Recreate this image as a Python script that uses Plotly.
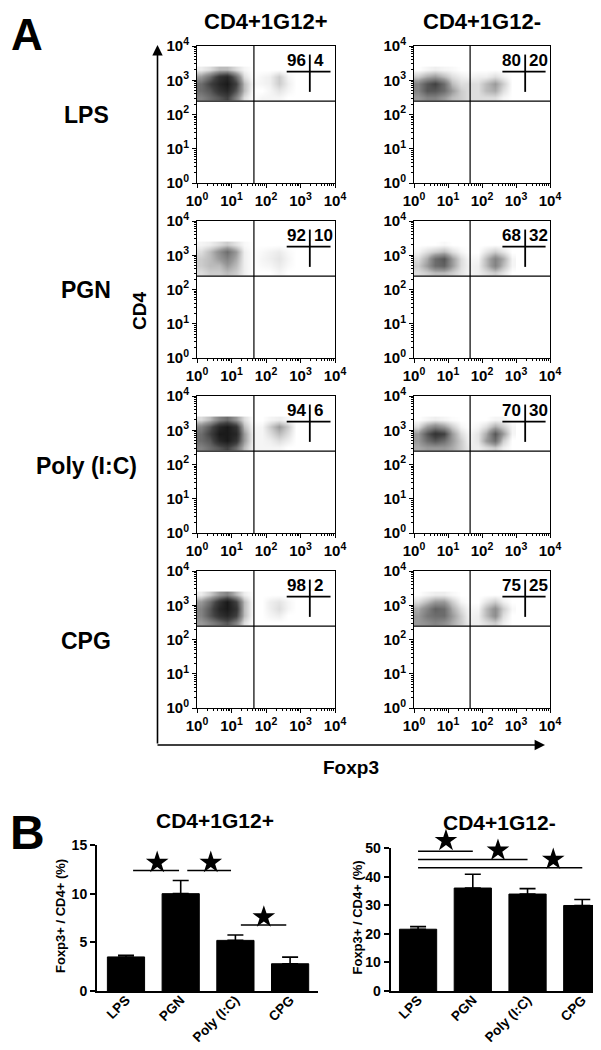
import math
import plotly.graph_objects as go

W, H = 601, 1050
FONT = "Arial, Liberation Sans, Helvetica, sans-serif"

# ---------------- Panel A data ----------------
row_labels = ["LPS", "PGN", "Poly (I:C)", "CPG"]
col_titles = ["CD4+1G12+", "CD4+1G12-"]
# quadrant percentages: [row][col]
quad_neg = [[96, 80], [92, 68], [94, 70], [98, 75]]
quad_pos = [[4, 20], [10, 32], [6, 30], [2, 25]]

decade_ticks = [0, 1, 2, 3, 4]
decade_labels = ["10<sup>0</sup>", "10<sup>1</sup>", "10<sup>2</sup>", "10<sup>3</sup>", "10<sup>4</sup>"]
minor_steps = [2, 3, 4, 5, 6, 7, 8, 9]

gate_x = 1.65   # log10 Foxp3 gate
gate_y = 2.39   # log10 CD4 gate

# density of events, log10 grid
grid_x = [0.125, 0.375, 0.625, 0.875, 1.125, 1.375, 1.625, 1.875, 2.125, 2.375, 2.625, 2.875]
grid_y = [2.5, 2.7, 2.9, 3.1, 3.3]

dens_lps_pos = [
    [4, 5, 6, 7, 4, 1, 0, 0.3, 0.3, 0.3, 0, 0],
    [5, 6, 8, 9, 6, 2, 0, 0, 0.3, 0.8, 0.3, 0],
    [5, 7, 9, 10, 7, 2, 0.2, 0.3, 0.5, 1.5, 0.5, 0],
    [3, 5, 8, 9, 5, 1, 0, 0.3, 0.5, 1.5, 0.3, 0],
    [0.5, 1, 2, 2, 1, 0.3, 0, 0, 0, 0, 0, 0],
]
dens_lps_neg = [
    [3, 4, 4, 3, 2, 1.5, 1, 1, 1, 1, 0.3, 0],
    [4, 6, 6, 5, 3, 1.5, 1, 1, 2, 2.5, 1, 0],
    [4, 6, 7, 5, 2, 1, 1, 1, 2, 3, 1.5, 0],
    [1.5, 2.5, 3, 2, 1, 0.5, 0.3, 0.5, 0.5, 1, 0.5, 0],
    [0, 0.3, 0.5, 0.3, 0.2, 0, 0, 0, 0, 0, 0, 0],
]
dens_pgn_pos = [
    [1, 1.5, 1.5, 2, 1.5, 0.5, 0, 0, 0, 0.3, 0, 0],
    [1.5, 2, 2, 3, 2, 0.5, 0, 0.2, 0.3, 0.6, 0.2, 0],
    [1.5, 2, 3, 4, 2.5, 0.5, 0, 0.3, 0.5, 0.8, 0.3, 0],
    [1, 2, 3.5, 5, 3, 0.5, 0, 0.2, 0.4, 0.6, 0.2, 0],
    [0.3, 0.5, 1, 1.5, 0.8, 0.2, 0, 0, 0, 0, 0, 0],
]
dens_pgn_neg = [
    [1, 1.5, 2, 2, 1.5, 0.8, 0.3, 0.5, 1, 1.5, 0.8, 0],
    [1.5, 3, 5, 5.5, 3, 1, 0.3, 0.5, 2, 4, 2, 0.3],
    [1, 2.5, 5, 6, 3, 1, 0.2, 0.3, 2, 4, 2.5, 0.3],
    [0.3, 1, 1.5, 2, 1, 0.3, 0, 0, 0.8, 1.5, 0.8, 0],
    [0, 0, 0, 0.2, 0, 0, 0, 0, 0, 0, 0, 0],
]
dens_poly_pos = [
    [4, 5, 6, 7, 5, 2, 0.3, 0.3, 0.3, 0.3, 0, 0],
    [5, 6, 9, 10, 8, 3, 0.3, 0.3, 0.5, 1, 0.5, 0],
    [5, 7, 10, 10, 9, 3, 0.3, 0.3, 1, 2, 1, 0],
    [4, 6, 9, 10, 8, 2, 0.2, 0.3, 1.5, 3, 1.5, 0],
    [1, 2, 4, 5, 3, 1, 0, 0, 0.3, 0.5, 0.2, 0],
]
dens_poly_neg = [
    [2.5, 3, 3, 3, 2.5, 1.5, 0.5, 0.5, 1, 1.5, 0.5, 0],
    [3, 5, 6, 5, 3, 1.5, 0.3, 0.8, 3, 5, 1.5, 0],
    [3, 6, 8, 7, 3, 1, 0.2, 0.8, 2.5, 6, 3, 0.3],
    [1, 3, 4, 3, 1.5, 0.3, 0, 0.3, 1, 2.5, 1.5, 0.3],
    [0, 0.3, 0.5, 0.3, 0.1, 0, 0, 0, 0, 0.3, 0.3, 0],
]
dens_cpg_pos = [
    [3, 4, 5, 6, 4, 1, 0, 0, 0, 0, 0, 0],
    [4, 6, 8, 9, 7, 2, 0, 0, 0.3, 0.5, 0, 0],
    [4, 6, 9, 10, 8, 2, 0, 0, 0.5, 1, 0.3, 0],
    [3, 5, 8, 10, 7, 2, 0, 0, 0.5, 0.8, 0.3, 0],
    [0.5, 1.5, 3, 4, 2, 0.5, 0, 0, 0, 0, 0, 0],
]
dens_cpg_neg = [
    [3, 3.5, 4, 3.5, 2.5, 1.5, 0.5, 0.5, 1, 1.5, 0.5, 0],
    [3, 4.5, 5, 5, 3, 1.5, 0.3, 0.5, 2, 3.5, 1, 0],
    [2.5, 4, 5.5, 5, 2.5, 1, 0.2, 0.3, 2, 3.5, 1.5, 0.2],
    [1, 2, 3, 3, 1.5, 0.3, 0, 0, 0.8, 1.5, 0.5, 0],
    [0, 0.3, 0.5, 0.5, 0.2, 0, 0, 0, 0, 0, 0, 0],
]
densities = [
    [dens_lps_pos, dens_lps_neg],
    [dens_pgn_pos, dens_pgn_neg],
    [dens_poly_pos, dens_poly_neg],
    [dens_cpg_pos, dens_cpg_neg],
]

# ---------------- Panel B data ----------------
bar_cats = ["LPS", "PGN", "Poly (I:C)", "CPG"]
pos_mean = [3.5, 10.0, 5.2, 2.8]
pos_sem = [0.17, 1.35, 0.55, 0.68]
neg_mean = [21.6, 36.0, 33.9, 29.9]
neg_sem = [0.9, 4.8, 1.9, 2.1]

# significance brackets: (x_start, x_end, y)
pos_sig_lines = [(0.13, 0.97, 12.38), (1.12, 1.92, 12.38), (2.1, 2.93, 6.77)]
pos_sig_stars = [(0.57, 13.2), (1.55, 13.2), (2.52, 7.6)]
neg_sig_lines = [(0.0, 1.0, 48.9), (0.0, 2.0, 46.0), (0.0, 3.0, 43.1)]
neg_sig_stars = [(0.51, 52.6), (1.46, 49.2), (2.47, 46.0)]

# ---------------- Layout geometry (screen pixels) ----------------
col_x = [(189, 327), (406, 542)]
row_top0, row_h, row_step = 38, 137, 175

fig = go.Figure()
layout = dict(
    width=W, height=H, margin=dict(l=0, r=0, t=0, b=0, autoexpand=False),
    paper_bgcolor="white", plot_bgcolor="rgba(0,0,0,0)", showlegend=False,
    font=dict(family=FONT, color="black"),
)
shapes, annotations = [], []

minor_vals = [d + math.log10(m) for d in range(4) for m in minor_steps]


def px_x(p):
    return p / W


def px_y(p):
    return 1 - p / H


ax_common = dict(
    range=[0, 4], tickmode="array", tickvals=decade_ticks, ticktext=decade_labels,
    ticks="outside", ticklen=4, tickwidth=1, tickcolor="black",
    showline=True, mirror=True, linecolor="black", linewidth=1,
    showgrid=False, zeroline=False, fixedrange=True, automargin=False,
    tickfont=dict(family=FONT, size=15, color="black", weight="bold"),
    minor=dict(tickmode="array", tickvals=minor_vals, ticks="outside", ticklen=2,
               tickcolor="black", tickwidth=1, showgrid=False),
)

n = 0
for r in range(4):
    for c in range(2):
        n += 1
        xa = "xaxis" if n == 1 else f"xaxis{n}"
        ya = "yaxis" if n == 1 else f"yaxis{n}"
        xr = "x" if n == 1 else f"x{n}"
        yr = "y" if n == 1 else f"y{n}"
        top = row_top0 + r * row_step
        bot = top + row_h
        layout[xa] = dict(ax_common, domain=[px_x(col_x[c][0]), px_x(col_x[c][1])], anchor=yr)
        layout[ya] = dict(ax_common, domain=[px_y(bot), px_y(top)], anchor=xr)

        fig.add_trace(go.Heatmap(
            x=grid_x, y=grid_y, z=densities[r][c], xaxis=xr, yaxis=yr,
            zmin=0, zmax=10, zsmooth="best", showscale=False, hoverinfo="skip",
            colorscale=[[0, "rgba(0,0,0,0)"], [0.3, "rgba(0,0,0,0.4)"],
                        [0.7, "rgba(0,0,0,0.75)"], [1, "rgba(0,0,0,0.9)"]],
        ))
        line = dict(color="black", width=1.2)
        shapes.append(dict(type="line", xref=xr, yref=yr, x0=gate_x, x1=gate_x, y0=0, y1=4, line=line))
        shapes.append(dict(type="line", xref=xr, yref=yr, x0=0, x1=4, y0=gate_y, y1=gate_y, line=line))
        cl = dict(color="black", width=1.8)
        shapes.append(dict(type="line", xref=xr, yref=yr, x0=2.6, x1=3.87, y0=3.25, y1=3.25, line=cl))
        shapes.append(dict(type="line", xref=xr, yref=yr, x0=3.27, x1=3.27, y0=2.66, y1=3.75, line=cl))
        annotations.append(dict(xref=xr, yref=yr, x=3.21, y=3.24, xanchor="right", yanchor="bottom",
                                text=str(quad_neg[r][c]), showarrow=False,
                                font=dict(size=17, weight="bold", family=FONT)))
        annotations.append(dict(xref=xr, yref=yr, x=3.33, y=3.24, xanchor="left", yanchor="bottom",
                                text=str(quad_pos[r][c]), showarrow=False,
                                font=dict(size=17, weight="bold", family=FONT)))

    annotations.append(dict(xref="paper", yref="paper", x=px_x(78), y=px_y(107.5 + r * row_step),
                            text=row_labels[r], showarrow=False, xanchor="center", yanchor="middle",
                            font=dict(size=23, weight="bold", family=FONT)))

for c in range(2):
    annotations.append(dict(xref="paper", yref="paper", x=px_x((col_x[c][0] + col_x[c][1]) / 2),
                            y=px_y(14), text=col_titles[c], showarrow=False,
                            xanchor="center", yanchor="middle",
                            font=dict(size=22, weight="bold", family=FONT)))

# Big arrows (CD4 / Foxp3)
annotations.append(dict(xref="paper", yref="paper", x=px_x(149.5), y=px_y(37), ax=0, ay=700,
                        text="", showarrow=True, arrowhead=2,
                        arrowsize=1.3, arrowwidth=1.6, arrowcolor="black"))
annotations.append(dict(xref="paper", yref="paper", x=px_x(537), y=px_y(737), ax=-389, ay=0,
                        text="", showarrow=True, arrowhead=2,
                        arrowsize=1.3, arrowwidth=1.6, arrowcolor="black"))
annotations.append(dict(xref="paper", yref="paper", x=px_x(131), y=px_y(303), text="CD4",
                        textangle=-90, showarrow=False, xanchor="center", yanchor="middle",
                        font=dict(size=19, weight="bold", family=FONT)))
annotations.append(dict(xref="paper", yref="paper", x=px_x(343), y=px_y(759), text="Foxp3",
                        showarrow=False, xanchor="center", yanchor="middle",
                        font=dict(size=19, weight="bold", family=FONT)))
annotations.append(dict(xref="paper", yref="paper", x=px_x(19), y=px_y(26), text="A",
                        showarrow=False, xanchor="center", yanchor="middle",
                        font=dict(size=44, weight="bold", family=FONT)))
annotations.append(dict(xref="paper", yref="paper", x=px_x(19), y=px_y(824), text="B",
                        showarrow=False, xanchor="center", yanchor="middle",
                        font=dict(size=48, weight="bold", family=FONT)))

# ---------------- Panel B bar charts ----------------
bar_specs = [
    dict(mean=pos_mean, sem=pos_sem, xdom=(89, 310), ydom=(837, 983), xrange=[-0.53, 3.51],
         yrange=[0, 15], dtick=5, title="CD4+1G12+", title_xy=(207, 812), ytitle_x=52,
         lines=pos_sig_lines, stars=pos_sig_stars),
    dict(mean=neg_mean, sem=neg_sem, xdom=(382.7, 600), ydom=(840, 983), xrange=[-0.5, 3.47],
         yrange=[0, 50], dtick=10, title="CD4+1G12-", title_xy=(491, 814), ytitle_x=349,
         lines=neg_sig_lines, stars=neg_sig_stars),
]
xpos = list(range(len(bar_cats)))
for i, spec in enumerate(bar_specs):
    n = 9 + i
    ns = 11 + i  # hidden overlay axis with extra headroom for brackets/stars
    xa, ya, xr, yr = f"xaxis{n}", f"yaxis{n}", f"x{n}", f"y{n}"
    ysa, ysr = f"yaxis{ns}", f"y{ns}"
    y_top_px, y_bot_px = spec["ydom"]
    layout[xa] = dict(domain=[px_x(spec["xdom"][0]), min(1.0, px_x(spec["xdom"][1]))], anchor=yr,
                      range=spec["xrange"], tickmode="array", tickvals=xpos, ticktext=bar_cats,
                      tickangle=-45, ticks="", showline=True, linecolor="black", linewidth=2,
                      showgrid=False, zeroline=False, fixedrange=True, automargin=False,
                      ticklabelstandoff=-6,
                      tickfont=dict(size=13.5, weight="bold", family=FONT, color="black"))
    layout[ya] = dict(domain=[px_y(y_bot_px), px_y(y_top_px)], anchor=xr,
                      range=spec["yrange"], dtick=spec["dtick"], ticks="outside", ticklen=5,
                      tickwidth=2, tickcolor="black", showline=True, linecolor="black",
                      linewidth=2, showgrid=False, zeroline=False, fixedrange=True,
                      automargin=False,
                      tickfont=dict(size=14, weight="bold", family=FONT, color="black"))
    head_px = 30
    scale = (y_bot_px - (y_top_px - head_px)) / (y_bot_px - y_top_px)
    layout[ysa] = dict(domain=[px_y(y_bot_px), px_y(y_top_px - head_px)], anchor=xr,
                       range=[spec["yrange"][0], spec["yrange"][1] * scale], visible=False,
                       fixedrange=True, automargin=False, showgrid=False, zeroline=False)
    fig.add_trace(go.Bar(
        x=xpos, y=spec["mean"], xaxis=xr, yaxis=yr, width=0.68,
        marker=dict(color="black", line=dict(color="black", width=1)),
        error_y=dict(type="data", array=spec["sem"], arrayminus=[0] * len(xpos),
                     symmetric=False, color="black", thickness=1.6, width=8),
        hoverinfo="skip",
    ))
    for (x0, x1, yv) in spec["lines"]:
        fig.add_trace(go.Scatter(x=[x0, x1], y=[yv, yv], xaxis=xr, yaxis=ysr, mode="lines",
                                 line=dict(color="black", width=1.5), cliponaxis=False,
                                 hoverinfo="skip"))
    fig.add_trace(go.Scatter(x=[s[0] for s in spec["stars"]], y=[s[1] for s in spec["stars"]],
                             xaxis=xr, yaxis=ysr, mode="markers", cliponaxis=False,
                             marker=dict(symbol="star", size=17, color="black"),
                             hoverinfo="skip"))
    annotations.append(dict(xref="paper", yref="paper", x=px_x(spec["title_xy"][0]),
                            y=px_y(spec["title_xy"][1]), text=spec["title"], showarrow=False,
                            xanchor="center", yanchor="middle",
                            font=dict(size=21, weight="bold", family=FONT)))
    annotations.append(dict(xref="paper", yref="paper", x=px_x(spec["ytitle_x"]),
                            y=px_y((y_top_px + y_bot_px) / 2 - 2),
                            text="Foxp3+ / CD4+ (%)", textangle=-90, showarrow=False,
                            xanchor="center", yanchor="middle",
                            font=dict(size=13, weight="bold", family=FONT)))

layout["shapes"] = shapes
layout["annotations"] = annotations
fig.update_layout(**layout)
fig.write_html("out.html")
